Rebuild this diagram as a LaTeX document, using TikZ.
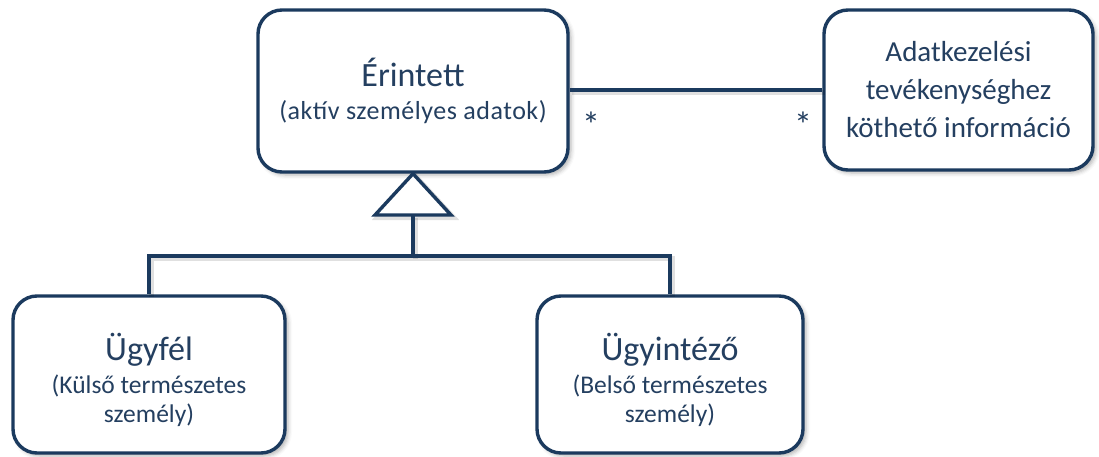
\documentclass[tikz,border=0pt]{standalone}
\usepackage{fontspec}
\setmainfont{Carlito}
\usetikzlibrary{shadows.blur}
\definecolor{navy}{HTML}{1B3A5E}
\definecolor{txt}{HTML}{243F60}
\begin{document}
\begin{tikzpicture}[x=1pt,y=-1pt,
  box/.style={draw=navy, line width=3.4pt, rounded corners=24pt, fill=white,
    inner sep=0pt, align=center, text=txt,
    blur shadow={shadow xshift=3pt, shadow yshift=-3pt, shadow blur radius=4pt, shadow opacity=30}},
  conn/.style={draw=navy, line width=3.4pt,
    preaction={draw=black, draw opacity=0.12, line width=5pt, transform canvas={shift={(2.5pt,-2.5pt)}}}},
  star/.style={text=txt, font=\fontsize{36}{36}\selectfont, inner sep=0pt}]
\useasboundingbox (0,0) rectangle (1099,457);

\node[box, minimum width=310pt, minimum height=162pt, font=\fontsize{26}{33}\selectfont\addfontfeature{LetterSpace=2}] (eri) at (413,91)
  {{\fontsize{34}{34}\selectfont\addfontfeature{LetterSpace=0}Érintett}\\(aktív személyes adatok)};
\node[box, minimum width=269pt, minimum height=160pt, font=\fontsize{29}{38}\selectfont] (adat) at (958.5,90)
  {Adatkezelési\\tevékenységhez\\köthető információ};
\node[box, minimum width=272pt, minimum height=157pt, font=\fontsize{25.5}{29}\selectfont] (ugy) at (149,374.5)
  {{\fontsize{34}{34}\selectfont\rule{0pt}{39pt}Ügyfél}\\[4pt](Külső természetes\\személy)};
\node[box, minimum width=266pt, minimum height=157pt, font=\fontsize{25.5}{29}\selectfont] (ugyi) at (670,374.5)
  {{\fontsize{34}{34}\selectfont\rule{0pt}{39pt}Ügyintéző}\\[4pt](Belső természetes\\személy)};

\draw[conn] (eri.east |- adat.west) -- (adat.west);
\node[star] (s1) at (591,125) {*};
\node[star] (s2) at (803,125) {*};

\coordinate (tribase) at (413,215);
\coordinate (bus) at (413,256);
\draw[conn, fill=white, line join=miter] (eri.south) -- (375,215) -- (451,215) -- cycle;
\draw[conn] (tribase) -- (bus);
\draw[conn] (ugy.north) |- (bus) -| (ugyi.north);
\end{tikzpicture}
\end{document}
